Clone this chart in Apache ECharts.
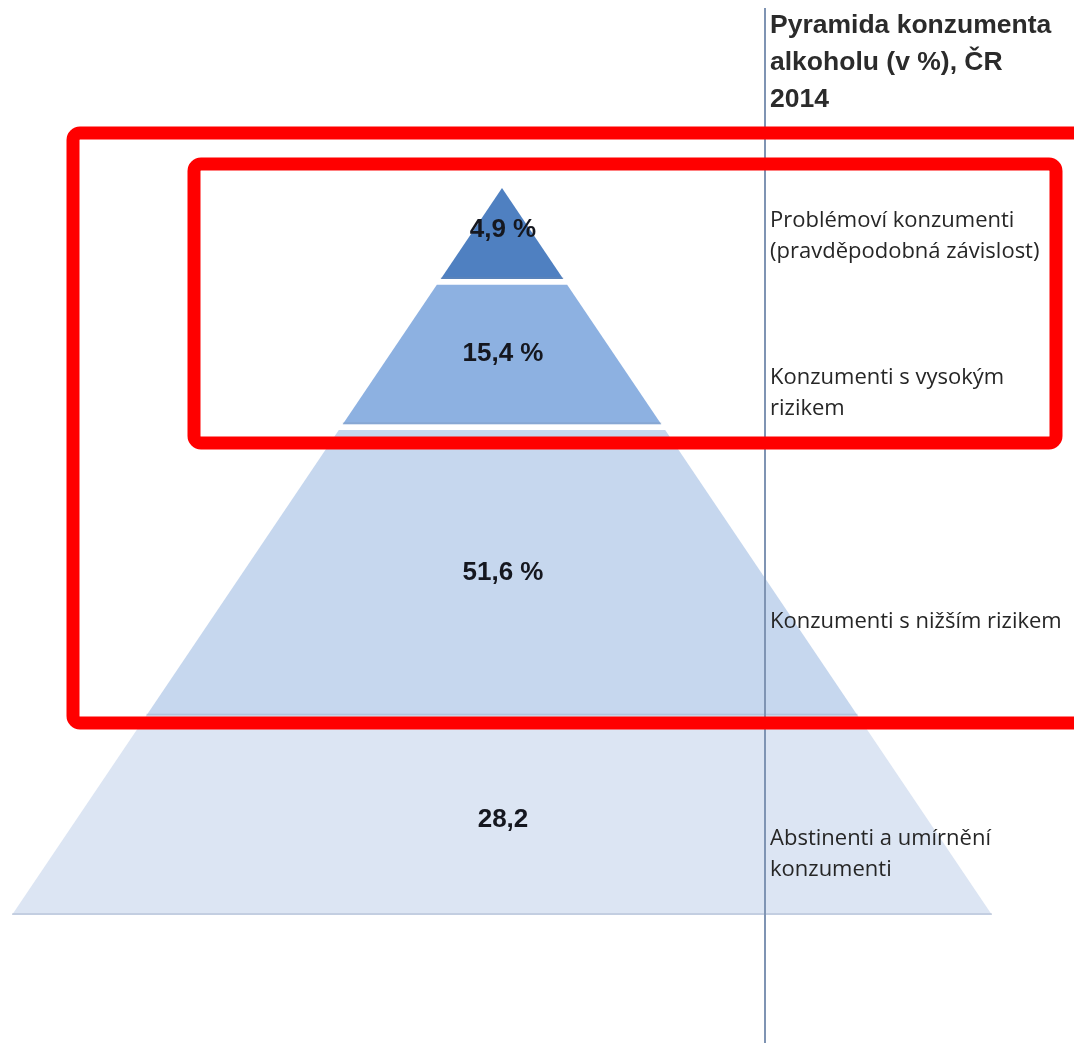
<!DOCTYPE html>
<html>
<head>
<meta charset="utf-8">
<script src="https://cdn.jsdelivr.net/npm/echarts@6/dist/echarts.min.js"></script>
<style>
html,body{margin:0;padding:0;background:#fff;}
#chart{width:1074px;height:1043px;}
</style>
</head>
<body>
<div id="chart"></div>
<script>
// ---- data ----
const categories = [
  'Problémoví konzumenti\n(pravděpodobná závislost)',
  'Konzumenti s vysokým\nrizikem',
  'Konzumenti s nižším rizikem',
  'Abstinenti a umírnění\nkonzumenti'
];
const values = [4.9, 15.4, 51.6, 28.2];
const units = [' %', ' %', ' %', ''];
const titleText = 'Pyramida konzumenta\nalkoholu (v %), ČR\n2014';

// ---- layout (depth from apex, 0..100) ----
const tierTop = [0, 13.3, 33.3, 72.6];
const tierBottom = [12.5, 32.5, 72.6, 100];
const valueDepth = [5.8, 22.8, 53.0, 86.9];
const catDepth = [6.6, 28.2, 59.7, 91.6];
const tierColors = ['#4f80c1', '#8db1e1', '#c6d7ee', '#dce5f3'];
const lineX = 26.84;

const fmt = (v, i) => v.toFixed(1).replace('.', ',') + units[i];

const chart = echarts.init(document.getElementById('chart'), null, {renderer: 'canvas'});
chart.setOption({
  backgroundColor: '#ffffff',
  animation: false,
  grid: {left: 12, top: 188, width: 980, height: 727},
  xAxis: {type: 'value', min: -50, max: 50, show: false},
  yAxis: {type: 'value', min: 0, max: 100, inverse: true, show: false},
  series: [{
    type: 'custom',
    data: values.map((v, i) => [i, v]),
    renderItem: function (params, api) {
      const i = api.value(0);
      const t = tierTop[i], b = tierBottom[i];
      const pts = [
        api.coord([-t / 2, t]), api.coord([t / 2, t]),
        api.coord([b / 2, b]), api.coord([-b / 2, b])
      ];
      const vp = api.coord([0.1, valueDepth[i]]);
      const cp = api.coord([lineX, catDepth[i]]);
      return {
        type: 'group',
        children: [
          {type: 'polygon', shape: {points: pts}, style: {fill: tierColors[i]}},
          {type: 'line', shape: {x1: pts[3][0], y1: pts[3][1] - 1, x2: pts[2][0], y2: pts[2][1] - 1},
           style: {stroke: 'rgba(120,140,170,0.25)', lineWidth: 2}},
          {type: 'text', x: vp[0], y: vp[1], style: {
            text: fmt(api.value(1), i), fill: '#15171f',
            font: 'bold 26px "Liberation Sans", Arial, sans-serif',
            align: 'center', verticalAlign: 'middle'}},
          {type: 'text', x: cp[0] + 5, y: cp[1], style: {
            text: categories[i], fill: '#262626',
            font: '22px "Open Sans", sans-serif', lineHeight: 31,
            align: 'left', verticalAlign: 'middle'}}
        ]
      };
    }
  }],
  graphic: [
    {type: 'line', shape: {x1: 765, y1: 8, x2: 765, y2: 1043}, style: {stroke: '#7f94b3', lineWidth: 2}, z: 5},
    {type: 'text', left: 770, top: 7, style: {
      text: titleText, fill: '#2b2b2b', font: 'bold 26.5px "Liberation Sans", Arial, sans-serif', lineHeight: 37}},
    {type: 'rect', shape: {x: 73, y: 133, width: 1040, height: 590, r: 7}, style: {fill: 'none', stroke: '#ff0000', lineWidth: 13}, z: 10},
    {type: 'rect', shape: {x: 194, y: 164, width: 862, height: 279, r: 7}, style: {fill: 'none', stroke: '#ff0000', lineWidth: 13}, z: 10}
  ]
});
</script>
</body>
</html>
